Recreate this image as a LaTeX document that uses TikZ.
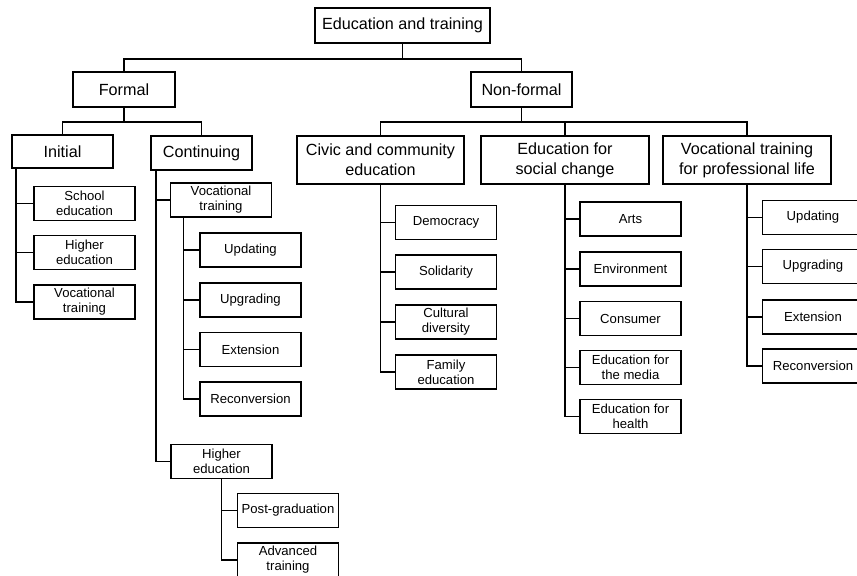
\documentclass[tikz,border=0pt]{standalone}
\usepackage{fontspec}
\setmainfont{Liberation Sans}

\begin{document}
\begin{tikzpicture}[x=0.03cm, y=-0.03cm, line width=1.5pt,
  box/.style={draw, rectangle, inner sep=0pt, align=center, font=\fontsize{13.8}{17}\selectfont},
  leaf/.style={draw, rectangle, inner sep=0pt, align=center, minimum width=3.03cm, minimum height=1.02cm, font=\fontsize{11.2}{12.8}\selectfont}]
\useasboundingbox (0,0) rectangle (857,575);
\node[box, minimum width=5.25cm, minimum height=1.05cm] (root) at (402.5,25.5) {Education and training};
\node[box, minimum width=3.06cm, minimum height=1.05cm] (formal) at (124,89.5) {Formal};
\node[box, minimum width=3.03cm, minimum height=1.05cm] (nonformal) at (521.5,89.5) {Non-formal};
\node[box, minimum width=3.03cm, minimum height=1cm] (initial) at (62.5,151.5) {Initial};
\node[box, minimum width=3.03cm, minimum height=1.02cm] (continuing) at (201.5,153) {Continuing};
\node[box, minimum width=5.01cm, minimum height=1.44cm] (civic) at (380.5,160) {Civic and community\\education};
\node[box, minimum width=5.04cm, minimum height=1.44cm] (social) at (565,160) {Education for\\social change};
\node[box, minimum width=5.04cm, minimum height=1.44cm] (vocprof) at (747,160) {Vocational training\\for professional life};
\node[leaf] (school) at (84.5,203.5) {School\\education};
\node[leaf] (higheri) at (84.5,252.5) {Higher\\education};
\node[leaf] (voci) at (84.5,302) {Vocational\\training};
\node[leaf] (cvt) at (221,200) {Vocational\\training};
\node[leaf] (cupd) at (250.5,250) {Updating};
\node[leaf] (cupg) at (250.5,300) {Upgrading};
\node[leaf] (cext) at (250.5,349.5) {Extension};
\node[leaf] (crec) at (250.5,399) {Reconversion};
\node[leaf] (che) at (221.5,461.5) {Higher\\education};
\node[leaf] (postgrad) at (288,510.5) {Post-graduation};
\node[leaf] (advanced) at (288,560) {Advanced\\training};
\node[leaf] (democracy) at (446,222.5) {Democracy};
\node[leaf] (solidarity) at (446,272) {Solidarity};
\node[leaf] (cultural) at (446,322) {Cultural\\diversity};
\node[leaf] (family) at (446,372) {Family\\education};
\node[leaf] (arts) at (630.5,219) {Arts};
\node[leaf] (environment) at (630.5,269) {Environment};
\node[leaf] (consumer) at (630.5,318.5) {Consumer};
\node[leaf] (media) at (630.5,367.5) {Education for\\the media};
\node[leaf] (health) at (630.5,416.5) {Education for\\health};
\node[leaf] (vupd) at (813,217.5) {Updating};
\node[leaf] (vupg) at (813,266.5) {Upgrading};
\node[leaf] (vext) at (813,317) {Extension};
\node[leaf] (vrec) at (813,366) {Reconversion};
\draw (root.south) -- ++(0,15) -| (formal.north);
\draw (root.south) -- ++(0,15) -| (nonformal.north);
\draw (formal.south) -- ++(0,14) -| (initial.north);
\draw (formal.south) -- ++(0,14) -| (continuing.north);
\draw (nonformal.south) -- ++(0,14) -| (civic.north);
\draw (nonformal.south) -- ++(0,14) -| (social.north);
\draw (nonformal.south) -- ++(0,14) -| (vocprof.north);
\foreach \c in {school,higheri,voci} \draw ([xshift=0.15cm]initial.south west) |- (\c.west);
\foreach \c in {cvt,che} \draw ([xshift=0.18cm]continuing.south west) |- (\c.west);
\foreach \c in {cupd,cupg,cext,crec} \draw ([xshift=0.42cm]cvt.south west) |- (\c.west);
\foreach \c in {postgrad,advanced} \draw (che.south) |- (\c.west);
\foreach \c in {democracy,solidarity,cultural,family} \draw (civic.south) |- (\c.west);
\foreach \c in {arts,environment,consumer,media,health} \draw (social.south) |- (\c.west);
\foreach \c in {vupd,vupg,vext,vrec} \draw (vocprof.south) |- (\c.west);
\end{tikzpicture}
\end{document}
